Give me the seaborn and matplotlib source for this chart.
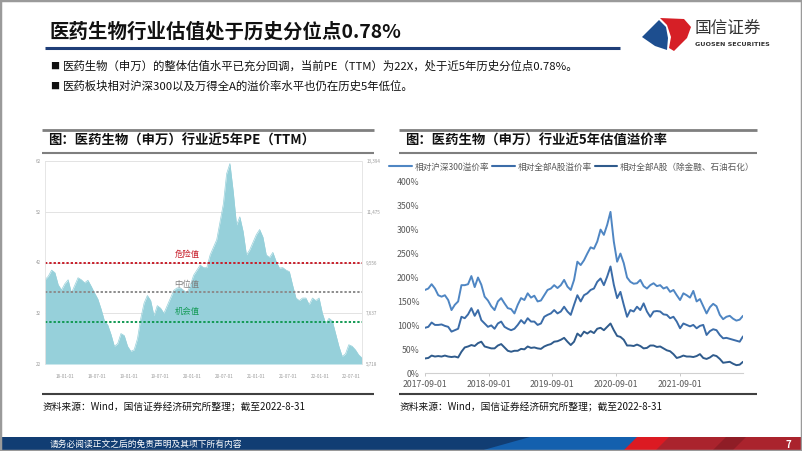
import matplotlib
matplotlib.use("Agg")
import matplotlib.pyplot as plt
import matplotlib.dates as mdates
import matplotlib.ticker as mticker
from matplotlib.lines import Line2D
from matplotlib.patches import Polygon, Rectangle
import numpy as np
import pandas as pd
import seaborn as sns

# ---- data ----
pe_values = [38.6, 39.3, 40.5, 40.0, 37.6, 36.6, 37.8, 38.6, 36.0, 37.5,
             39.0, 38.6, 38.0, 38.5, 37.3, 36.0, 34.8, 32.8, 30.5, 29.7,
             27.8, 25.5, 26.0, 28.0, 27.6, 25.5, 24.5, 24.8, 27.0, 31.0,
             34.0, 35.5, 34.5, 31.5, 33.5, 33.0, 32.0, 33.5, 35.0, 36.5,
             37.0, 37.0, 36.5, 36.0, 37.5, 39.5, 40.5, 41.5, 41.0, 41.0,
             43.5, 45.0, 46.5, 50.0, 53.5, 59.5, 61.5, 56.0, 49.4, 51.0,
             48.1, 43.5, 44.5, 46.0, 47.5, 48.5, 47.0, 43.5, 43.0, 44.0,
             42.2, 40.9, 41.0, 40.5, 40.2, 37.5, 35.0, 34.5, 35.0, 35.0,
             33.7, 35.0, 34.5, 35.0, 32.0, 30.0, 31.0, 30.5, 28.0, 25.5,
             23.5, 24.0, 25.8, 25.5, 24.8, 23.8, 23.2]
pe_danger = 42.0
pe_median = 36.2
pe_chance = 30.3
pe_left_ticks = [22, 32, 42, 52, 62]
pe_right_ticks = [5718, 7637, 9556, 11475, 13394]
pe_xticks = ["2018-01-01", "2018-07-01", "2019-01-01", "2019-07-01", "2020-01-01",
             "2020-07-01", "2021-01-01", "2021-07-01", "2022-01-01", "2022-07-01"]

prem_names = ["相对沪深300溢价率", "相对全部A股溢价率", "相对全部A股（除金融、石油石化）"]
prem_hs300 = [174, 177, 186, 177, 163, 160, 163, 153, 132, 143,
              150, 184, 184, 186, 203, 180, 200, 185, 160, 152,
              140, 132, 150, 157, 146, 136, 134, 125, 143, 157,
              153, 167, 158, 162, 150, 152, 163, 174, 177, 184,
              178, 184, 195, 181, 174, 195, 233, 226, 236, 250,
              263, 260, 275, 300, 289, 310, 337, 275, 233, 250,
              230, 200, 191, 187, 188, 195, 182, 177, 184, 188,
              182, 184, 177, 180, 170, 174, 163, 153, 167, 163,
              158, 172, 150, 155, 140, 125, 138, 145, 140, 122,
              113, 118, 120, 114, 110, 112, 120]
prem_alla = [95, 97, 106, 101, 101, 102, 99, 97, 87, 90,
             93, 118, 115, 123, 136, 120, 132, 111, 104, 97,
             100, 93, 104, 108, 97, 93, 90, 93, 101, 111,
             104, 115, 108, 108, 101, 104, 118, 122, 125, 132,
             125, 129, 139, 129, 122, 143, 163, 150, 163, 167,
             174, 177, 191, 198, 184, 202, 223, 185, 157, 170,
             143, 118, 132, 129, 139, 132, 146, 129, 118, 129,
             130, 129, 123, 122, 115, 118, 108, 94, 104, 101,
             98, 101, 94, 99, 101, 80, 88, 92, 90, 80,
             73, 74, 72, 70, 68, 66, 77]
prem_alla_ex = [31, 32, 37, 35, 36, 35, 37, 35, 34, 35,
                33, 45, 54, 56, 59, 57, 63, 66, 56, 54,
                52, 52, 58, 61, 54, 47, 45, 47, 47, 51,
                50, 56, 53, 54, 52, 51, 56, 59, 61, 66,
                67, 70, 74, 66, 59, 66, 83, 77, 87, 83,
                88, 84, 93, 95, 90, 97, 104, 90, 78, 76,
                70, 58, 58, 57, 60, 57, 52, 53, 58, 58,
                55, 56, 52, 48, 46, 40, 32, 34, 37, 35,
                35, 34, 36, 40, 32, 30, 33, 38, 36, 30,
                22, 23, 24, 20, 17, 18, 24]
prem_xticks = ["2017-09-01", "2018-09-01", "2019-09-01", "2020-09-01", "2021-09-01"]

sns.set_theme(style="white")
plt.rcParams["font.family"] = ["Noto Sans CJK SC", "DejaVu Sans"]
plt.rcParams["axes.unicode_minus"] = False

W, H = 802, 451
fig = plt.figure(figsize=(W / 100, H / 100), dpi=100)


def fx(x):
    return x / W


def fy(y):
    return 1 - y / H


def hline(x0, x1, y, color, lw):
    fig.add_artist(Line2D([fx(x0), fx(x1)], [fy(y), fy(y)], transform=fig.transFigure,
                          color=color, lw=lw, solid_capstyle="butt"))


def poly(pts, color):
    fig.add_artist(Polygon([(fx(a), fy(b)) for a, b in pts], closed=True,
                           transform=fig.transFigure, facecolor=color, edgecolor="none"))


# ---- slide header ----
fig.text(fx(49), fy(32), "医药生物行业估值处于历史分位点0.78%", fontsize=14,
         fontweight="bold", color="#111111", va="center", ha="left")
hline(45, 620, 47.5, "#1f3e78", 2.2)

# logo
poly([(642, 37), (659, 20), (666, 27), (668, 38), (667, 50), (655, 46)], "#1d4e8f")
poly([(660, 18), (684, 19), (691, 27), (687, 38), (674, 51), (669, 48), (671, 37), (667, 25)], "#d61f26")
fig.text(fx(695), fy(28), "国信证券", fontsize=12, color="#333333", va="center", ha="left")
fig.text(fx(695), fy(44), "GUOSEN SECURITIES", fontsize=4.6, fontweight="bold",
         color="#333333", va="center", ha="left", family=["DejaVu Sans"])

# bullets
bullets = ["医药生物（申万）的整体估值水平已充分回调，当前PE（TTM）为22X，处于近5年历史分位点0.78%。",
           "医药板块相对沪深300以及万得全A的溢价率水平也仍在历史5年低位。"]
for i, txt in enumerate(bullets):
    y = 66 + 20 * i
    fig.text(fx(50), fy(y), "■", fontsize=6.5, color="#111111", va="center", ha="left")
    fig.text(fx(63), fy(y), txt, fontsize=8.2, color="#111111", va="center", ha="left")

# panel frames
for x0, x1, title in [(42, 374, "图：医药生物（申万）行业近5年PE（TTM）"),
                      (399, 757, "图：医药生物（申万）行业近5年估值溢价率")]:
    hline(x0, x1, 130, "#7f7f7f", 2.0)
    hline(x0, x1, 152.5, "#7f7f7f", 1.5)
    hline(x0, x1, 394, "#404040", 1.5)
    fig.text(fx(x0 + 6), fy(141), title, fontsize=9.6, fontweight="bold",
             color="#111111", va="center", ha="left")
    fig.text(fx(x0 + 1), fy(407), "资料来源：Wind，国信证券经济研究所整理；截至2022-8-31",
             fontsize=7, color="#111111", va="center", ha="left")

# ---- left chart: PE area ----
pe_dates = pd.date_range("2017-09-08", "2022-08-31", periods=len(pe_values))
pe_df = pd.DataFrame({"date": pe_dates, "pe": pe_values})

ax1 = fig.add_axes([fx(45), fy(364), (362 - 45) / W, (364 - 161) / H])
sns.lineplot(data=pe_df, x="date", y="pe", ax=ax1, color="#96d0da", lw=0.5)
ax1.fill_between(pe_df["date"], pe_left_ticks[0], pe_df["pe"], color="#96d0da", lw=0)
ax1.set_xlim(pe_dates[0], pe_dates[-1])
ax1.set_ylim(pe_left_ticks[0], pe_left_ticks[-1])
ax1.set_yticks(pe_left_ticks)
ax1.grid(axis="y", color="#dedede", lw=0.6)
ax1.set_axisbelow(True)
ax1.set_xticks(pd.to_datetime(pe_xticks))
ax1.xaxis.set_major_formatter(mdates.DateFormatter("%y-%m-%d"))
ax1.tick_params(axis="y", labelsize=3.3, colors="#9a9a9a", length=0, pad=3)
ax1.tick_params(axis="x", labelsize=3.3, colors="#9a9a9a", length=0, pad=7)
ax1.set_xlabel("")
ax1.set_ylabel("")
for s in ["top", "bottom"]:
    ax1.spines[s].set_visible(False)
for s in ["left", "right"]:
    ax1.spines[s].set_color("#e2e2e2")
    ax1.spines[s].set_linewidth(0.6)

dot = (0, (1.2, 1.0))
ax1.axhline(pe_danger, color="#c8202c", lw=1.4, ls=dot)
ax1.axhline(pe_median, color="#8c8c8c", lw=1.4, ls=dot)
ax1.axhline(pe_chance, color="#139a55", lw=1.4, ls=dot)
ax1.text(0.448, pe_danger + 1.5, "危险值", transform=ax1.get_yaxis_transform(),
         fontsize=6, color="#c8202c", ha="center", va="center")
ax1.text(0.448, pe_median + 1.4, "中位值", transform=ax1.get_yaxis_transform(),
         fontsize=6, color="#7f7f7f", ha="center", va="center")
ax1.text(0.448, pe_chance + 2.0, "机会值", transform=ax1.get_yaxis_transform(),
         fontsize=6, color="#139a55", ha="center", va="center")

ax1r = ax1.twinx()
ax1r.set_ylim(pe_right_ticks[0], pe_right_ticks[-1])
ax1r.set_yticks(pe_right_ticks)
ax1r.yaxis.set_major_formatter(mticker.FuncFormatter(lambda v, p: f"{v:,.0f}"))
ax1r.tick_params(axis="y", labelsize=3.3, colors="#9a9a9a", length=0, pad=3)
ax1r.grid(False)
for s in ax1r.spines.values():
    s.set_visible(False)

# ---- right chart: premium lines ----
prem_dates = pd.date_range("2017-09-01", "2022-08-31", periods=len(prem_hs300))
prem_df = pd.concat([
    pd.DataFrame({"date": prem_dates, "value": vals, "series": name})
    for name, vals in zip(prem_names, [prem_hs300, prem_alla, prem_alla_ex])
])
palette = dict(zip(prem_names, ["#4f86c3", "#3b6ca8", "#2f5b8c"]))

ax2 = fig.add_axes([fx(425), fy(373.3), (743 - 425) / W, (373.3 - 181.7) / H])
sns.lineplot(data=prem_df, x="date", y="value", hue="series", palette=palette,
             ax=ax2, lw=1.4, legend=False)
ax2.set_xlim(prem_dates[0], prem_dates[-1])
ax2.set_ylim(0, 400)
ax2.set_yticks(range(0, 401, 50))
ax2.yaxis.set_major_formatter(mticker.FuncFormatter(lambda v, p: f"{v:.0f}%"))
ax2.set_xticks(pd.to_datetime(prem_xticks))
ax2.xaxis.set_major_formatter(mdates.DateFormatter("%Y-%m-%d"))
ax2.tick_params(axis="y", labelsize=6.3, colors="#595959", length=0, pad=4)
ax2.tick_params(axis="x", labelsize=6.3, colors="#595959", length=2.5, width=0.6,
                color="#bfbfbf", pad=2, bottom=True)
ax2.set_xlabel("")
ax2.set_ylabel("")
for s in ["top", "right", "left"]:
    ax2.spines[s].set_visible(False)
ax2.spines["bottom"].set_color("#d0d0d0")
ax2.spines["bottom"].set_linewidth(0.8)

handles = [Line2D([], [], color=palette[n], lw=1.5) for n in prem_names]
fig.legend(handles, prem_names, loc="center", bbox_to_anchor=(fx(572), fy(167)),
           ncol=3, frameon=False, fontsize=6.2, handlelength=2.6, handletextpad=0.3,
           columnspacing=0.4, labelcolor="#595959")

# ---- footer ----
fig.add_artist(Rectangle((0, 0), 1, fy(437), transform=fig.transFigure,
                         facecolor="#113d73", edgecolor="none"))
poly([(480, 451), (530, 437), (640, 437), (623, 451)], "#1460ae")
poly([(623, 451), (637, 437), (802, 437), (802, 451)], "#dc1a22")
poly([(655, 451), (669, 437), (802, 437), (802, 451)], "#aa232d")
poly([(712, 451), (726, 437), (746, 437), (732, 451)], "#8f1d26")
fig.text(fx(50), fy(444.5), "请务必阅读正文之后的免责声明及其项下所有内容", fontsize=6.3,
         color="white", va="center", ha="left")
fig.text(fx(788), fy(444.5), "7", fontsize=7, fontweight="bold", color="white",
         va="center", ha="center")

# slide border
fig.add_artist(Rectangle((0, 0), 1, 1, transform=fig.transFigure, facecolor="none",
                         edgecolor="#9a9a9a", lw=2.5))

fig.savefig("out.png", dpi=100)
